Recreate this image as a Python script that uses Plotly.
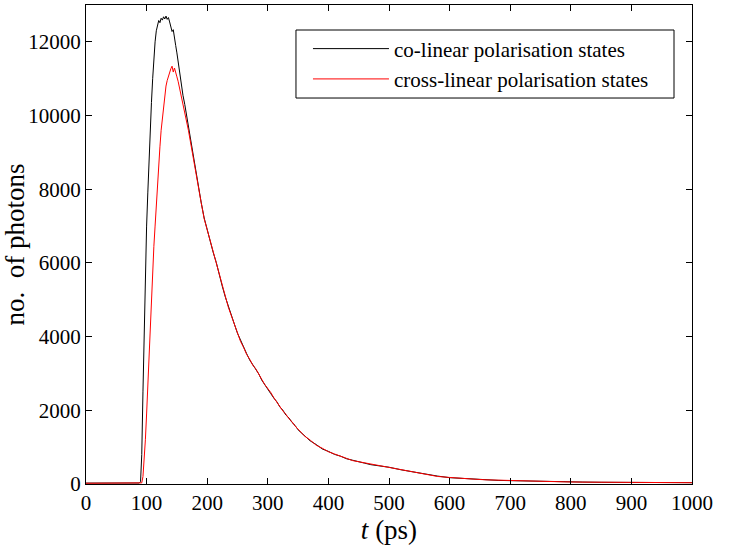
import plotly.graph_objects as go

# Time axis (ps) shared by both histograms
t_ps = [0, 20, 40, 60, 80, 86, 88, 90, 92, 94, 96, 98, 100, 102, 104, 106, 108, 110,
        112, 114, 116, 118, 120, 122, 124, 126, 128, 130, 132, 134, 136, 138, 140,
        142, 144, 146, 148, 150, 152, 154, 156, 158, 160, 163, 166, 169, 172, 175,
        178, 181, 184, 187, 190, 195, 200, 205, 210, 215, 220, 225, 230, 235, 240,
        245, 250, 255, 260, 265, 270, 275, 280, 285, 290, 295, 300, 305, 310, 315,
        320, 325, 330, 335, 340, 345, 350, 360, 370, 380, 390, 400, 410, 420, 430,
        440, 450, 460, 470, 480, 490, 500, 520, 540, 560, 580, 600, 620, 640, 660,
        680, 700, 730, 760, 790, 820, 850, 880, 910, 940, 970, 1000]

# Photon counts, co-linear polarisation states
co_linear = [25, 22, 26, 23, 24, 25, 27, 60, 800, 2500, 4300, 5800, 7000, 7900, 8900,
             9700, 10350, 11000, 11550, 12000, 12300, 12480, 12580, 12520, 12640, 12590,
             12680, 12620, 12700, 12610, 12660, 12540, 12420, 12280, 12330, 12050, 11900,
             11700, 11450, 11200, 10950, 10750, 10550, 10300, 10000, 9650, 9350, 9050,
             8800, 8450, 8200, 7900, 7650, 7220, 6880, 6620, 6280, 6010, 5640, 5360,
             5070, 4810, 4540, 4330, 4090, 3890, 3690, 3540, 3370, 3250, 3110, 2990,
             2820, 2690, 2550, 2450, 2330, 2230, 2090, 2000, 1870, 1790, 1670, 1590,
             1470, 1330, 1170, 1070, 950, 885, 805, 755, 685, 645, 595, 565, 525, 505,
             470, 455, 385, 325, 255, 215, 172, 152, 128, 117, 98, 91, 77, 68, 56, 53,
             47, 45, 40, 40, 36, 36]

# Photon counts, cross-linear polarisation states
cross_linear = [20, 19, 21, 20, 22, 21, 20, 22, 30, 200, 600, 1200, 1900, 2700, 3500,
                4300, 5100, 5800, 6450, 7000, 7600, 8150, 8700, 9150, 9600, 9950, 10300,
                10600, 10800, 10950, 11080, 11200, 11270, 11340, 11180, 11290, 11120,
                11050, 10930, 10780, 10620, 10420, 10260, 10080, 9800, 9600, 9320, 9060,
                8780, 8470, 8180, 7920, 7640, 7200, 6900, 6600, 6310, 5990, 5660, 5340,
                5090, 4790, 4560, 4310, 4110, 3870, 3710, 3520, 3390, 3230, 3130, 2970,
                2840, 2700, 2600, 2480, 2340, 2210, 2110, 1980, 1890, 1770, 1690, 1570,
                1490, 1310, 1190, 1050, 970, 875, 815, 745, 695, 635, 605, 555, 535, 495,
                480, 445, 395, 315, 265, 205, 178, 148, 132, 113, 102, 89, 79, 66, 58, 51,
                49, 43, 42, 38, 37, 35]

x_ticks = list(range(0, 1001, 100))
x_labels = [str(v) for v in x_ticks]
y_ticks = list(range(0, 12001, 2000))
y_labels = [str(v) for v in y_ticks]

serif = "Liberation Serif"

fig = go.Figure()
fig.add_trace(go.Scatter(x=t_ps, y=co_linear, mode="lines",
                         name="co-linear polarisation states",
                         line=dict(color="black", width=1)))
fig.add_trace(go.Scatter(x=t_ps, y=cross_linear, mode="lines",
                         name="cross-linear polarisation states",
                         line=dict(color="red", width=1)))

axis_common = dict(showgrid=False, zeroline=False, showline=True, linecolor="black",
                   linewidth=1, mirror="allticks", ticks="inside", ticklen=6,
                   tickcolor="black", ticklabeloverflow="allow",
                   tickfont=dict(family=serif, size=21, color="black"))

fig.update_xaxes(range=[0, 1000], tickvals=x_ticks, ticktext=x_labels,
                 title=dict(text="<i>t</i> (ps)",
                            font=dict(family=serif, size=27, color="black"),
                            standoff=0),
                 **axis_common)
fig.update_yaxes(range=[0, 13000], tickvals=y_ticks, ticktext=y_labels,
                 title=dict(text="no.&nbsp; of photons",
                            font=dict(family=serif, size=27, color="black"),
                            standoff=0),
                 **axis_common)

# legend frame
fig.add_shape(type="rect", xref="paper", yref="paper",
              x0=0.3465, x1=0.9703, y0=0.8058, y1=0.9478,
              line=dict(color="black", width=1), fillcolor="white", layer="below")

fig.update_layout(
    width=736, height=546,
    margin=dict(l=86, r=44, t=5, b=62),
    plot_bgcolor="white", paper_bgcolor="white",
    font=dict(family=serif, color="black"),
    legend=dict(x=0.3663, y=0.951, xanchor="left", yanchor="top",
                bgcolor="rgba(0,0,0,0)", borderwidth=0,
                font=dict(family=serif, size=21, color="black"),
                itemwidth=76, tracegroupgap=0),
    showlegend=True,
)

fig.write_html("out.html")
